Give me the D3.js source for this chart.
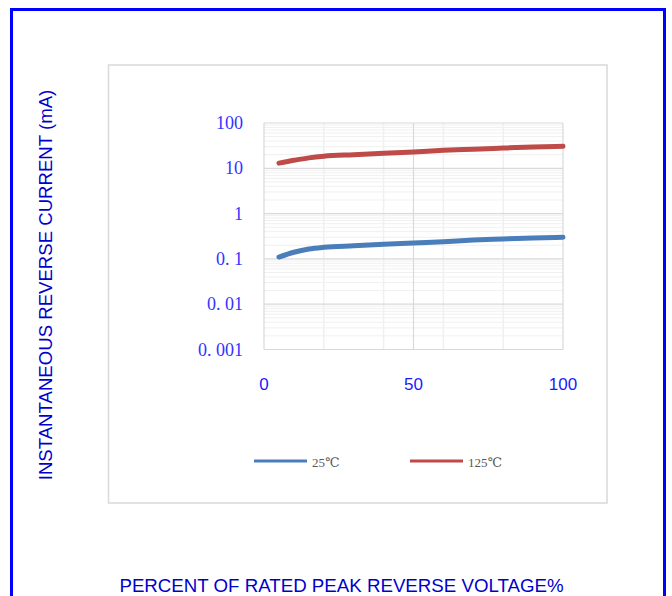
<!DOCTYPE html>
<html><head><meta charset="utf-8">
<script src="https://cdn.jsdelivr.net/npm/d3@7"></script>
<style>body{margin:0;background:#fff;} svg{display:block;}</style>
</head><body>
<svg id="c" width="672" height="596"></svg>
<script>
const xValues = [5, 10, 15, 20, 30, 40, 50, 60, 70, 80, 90, 100];
const series25 = [0.11, 0.14, 0.165, 0.18, 0.195, 0.21, 0.225, 0.24, 0.26, 0.275, 0.29, 0.30];
const series125 = [13, 15, 17, 18.5, 20, 21.5, 23, 25, 26.5, 28, 29.5, 30.5];
const seriesNames = ["25℃", "125℃"];
const seriesColors = ["#4a7ebb", "#be4b48"];
const yTicks = [100, 10, 1, 0.1, 0.01, 0.001];
const yTickLabels = ["100", "10", "1", "0. 1", "0. 01", "0. 001"];
const xTicks = [0, 50, 100];
const xMinorTicks = [20, 40, 60, 80];

const svg = d3.select("#c");
// outer blue frame
svg.append("rect").attr("x", 11.5).attr("y", 9.5).attr("width", 653).attr("height", 600)
  .attr("fill", "none").attr("stroke", "#0000ff").attr("stroke-width", 3);
// chart box
svg.append("rect").attr("x", 108.5).attr("y", 65).attr("width", 498.5).attr("height", 438)
  .attr("fill", "#fff").attr("stroke", "#d9d9d9").attr("stroke-width", 1.5);

const x = d3.scaleLinear().domain([0, 100]).range([264, 563]);
const y = d3.scaleLog().domain([0.001, 100]).range([349.5, 123]);

const g = svg.append("g");
// minor horizontal grid
const minor = [];
for (let e = -3; e < 2; e++) for (let k = 2; k <= 9; k++) minor.push(k * Math.pow(10, e));
g.selectAll(".hmin").data(minor).enter().append("line")
  .attr("x1", x(0)).attr("x2", x(100)).attr("y1", d => y(d)).attr("y2", d => y(d))
  .attr("stroke", "#f0f0f0").attr("stroke-width", 1);
// minor vertical grid
g.selectAll(".vmin").data(xMinorTicks).enter().append("line")
  .attr("x1", d => x(d)).attr("x2", d => x(d)).attr("y1", y(100)).attr("y2", y(0.001))
  .attr("stroke", "#f0f0f0").attr("stroke-width", 1.5);
// major horizontal
g.selectAll(".hmaj").data(yTicks).enter().append("line")
  .attr("x1", x(0)).attr("x2", x(100)).attr("y1", d => y(d)).attr("y2", d => y(d))
  .attr("stroke", "#d9d9d9").attr("stroke-width", 1.2);
// major vertical
g.selectAll(".vmaj").data(xTicks).enter().append("line")
  .attr("x1", d => x(d)).attr("x2", d => x(d)).attr("y1", y(100)).attr("y2", y(0.001))
  .attr("stroke", "#d9d9d9").attr("stroke-width", 1.2);

// y tick labels
g.selectAll(".yl").data(yTicks).enter().append("text")
  .attr("x", 243).attr("y", d => y(d) + 6)
  .attr("text-anchor", "end").attr("font-family", "'Liberation Serif','DejaVu Serif',serif")
  .attr("font-size", 18).attr("fill", "#3333ff")
  .text((d, i) => yTickLabels[i]);
// x tick labels
g.selectAll(".xl").data(xTicks).enter().append("text")
  .attr("x", d => x(d)).attr("y", 390)
  .attr("text-anchor", "middle").attr("font-family", "'Liberation Sans',Arial,sans-serif")
  .attr("font-size", 17).attr("fill", "#1a1aff")
  .text(d => d);

// lines
const line = d3.line().x(d => x(d[0])).y(d => y(d[1])).curve(d3.curveMonotoneX);
[series25, series125].forEach((s, i) => {
  g.append("path").datum(xValues.map((v, j) => [v, s[j]]))
    .attr("d", line).attr("fill", "none").attr("stroke", seriesColors[i])
    .attr("stroke-width", 5).attr("stroke-linecap", "round");
});

// legend
const legX = [254, 410];
seriesNames.forEach((n, i) => {
  svg.append("line").attr("x1", legX[i]).attr("x2", legX[i] + 53).attr("y1", 461).attr("y2", 461)
    .attr("stroke", seriesColors[i]).attr("stroke-width", 3);
  svg.append("text").attr("x", legX[i] + 58).attr("y", 467)
    .attr("font-family", "'Liberation Serif','DejaVu Serif',serif").attr("font-size", 13)
    .attr("fill", "#595959").text(n);
});

// axis titles
svg.append("text").attr("transform", "translate(51.5,285) rotate(-90)")
  .attr("text-anchor", "middle").attr("font-family", "'Liberation Sans',Arial,sans-serif")
  .attr("font-size", 18.6).attr("fill", "#0000cc")
  .text("INSTANTANEOUS REVERSE CURRENT (mA)");
svg.append("text").attr("x", 341.5).attr("y", 592)
  .attr("text-anchor", "middle").attr("font-family", "'Liberation Sans',Arial,sans-serif")
  .attr("font-size", 18.7).attr("fill", "#0000cc")
  .text("PERCENT OF RATED PEAK REVERSE VOLTAGE%");
</script>
</body></html>
